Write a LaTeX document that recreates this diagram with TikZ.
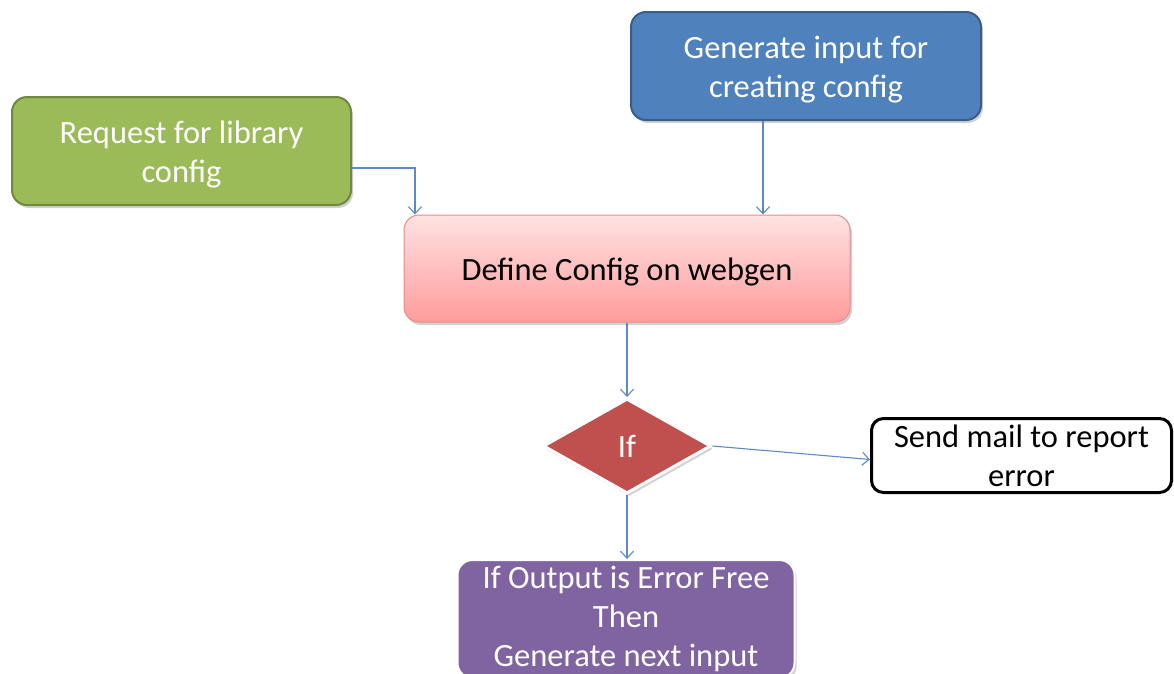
\documentclass[tikz,border=0pt]{standalone}
\usepackage{fontspec}
\setmainfont{Carlito}
\usetikzlibrary{shapes.geometric,shadows,arrows.meta}

\definecolor{greenfill}{HTML}{9BBB59}
\definecolor{greenline}{HTML}{71893F}
\definecolor{bluefill}{HTML}{4F81BD}
\definecolor{blueline}{HTML}{385D8A}
\definecolor{pinktop}{HTML}{FFE2E2}
\definecolor{pinkbot}{HTML}{FF9C9C}
\definecolor{pinkline}{HTML}{E58C8C}
\definecolor{redfill}{HTML}{C0504D}
\definecolor{purplefill}{HTML}{8064A2}
\definecolor{linkblue}{HTML}{5B8AC6}

\begin{document}
\begin{tikzpicture}[x=1pt,y=-1pt,
  every node/.style={font=\fontsize{32.5}{39}\selectfont, align=center, inner sep=0pt},
  softshadow/.style={drop shadow={shadow xshift=2pt, shadow yshift=-3pt, opacity=0.3, fill=black!60}},
  box/.style={rectangle, rounded corners=15pt, line width=2pt, softshadow},
  caption/.style 2 args={label={[yshift=-4pt, text=#1]center:{#2}}},
  link/.style={draw=linkblue, line width=1.1pt, -{Straight Barb[length=7pt,width=13pt,line width=1.1pt]}}
]
\useasboundingbox (0,0) rectangle (1174,673);
\clip (0,0) rectangle (1174,673);

% the two inputs
\node[box, fill=greenfill, draw=greenline,
      minimum width=339pt, minimum height=108pt,
      caption={white}{Request for library\\config}] (request) at (181.5,151) {};
\node[box, fill=bluefill, draw=blueline,
      minimum width=350pt, minimum height=108pt,
      caption={white}{Generate input for\\creating config}] (generate) at (806,66) {};

% definition step
\node[box, top color=pinktop, bottom color=pinkbot, draw=pinkline, line width=1pt,
      minimum width=446pt, minimum height=107pt,
      caption={black}{Define Config on webgen}] (define) at (627,268.5) {};

% decision
\node[diamond, fill=redfill, draw=white, line width=3pt, text=white, softshadow,
      minimum width=168pt, minimum height=95pt, aspect=1.8] (decide) at (627,446) {If};

% outcomes
\node[rectangle, rounded corners=12pt, fill=white, draw=black, line width=3pt,
      minimum width=300pt, minimum height=74pt] (mail) at (1021.5,455.5)
      {Send mail to report\\error};
\node[box, fill=purplefill, draw=white, line width=2pt, text=white,
      minimum width=337pt, minimum height=118pt] (next) at (626,619)
      {If Output is Error Free\\Then\\Generate next input};

% connectors
\coordinate (bend) at (415,168);
\draw[link] (request.east |- bend) -- (bend) -- (bend |- define.north);
\draw[link] (generate.south -| 763,0) -- (define.north -| 763,0);
\draw[link] (define.south -| decide.north) -- (decide.north);
\draw[link] (decide.east) -- ([yshift=-4pt]mail.west);
\draw[link] (decide.south) -- (next.north -| decide.south);
\end{tikzpicture}
\end{document}
